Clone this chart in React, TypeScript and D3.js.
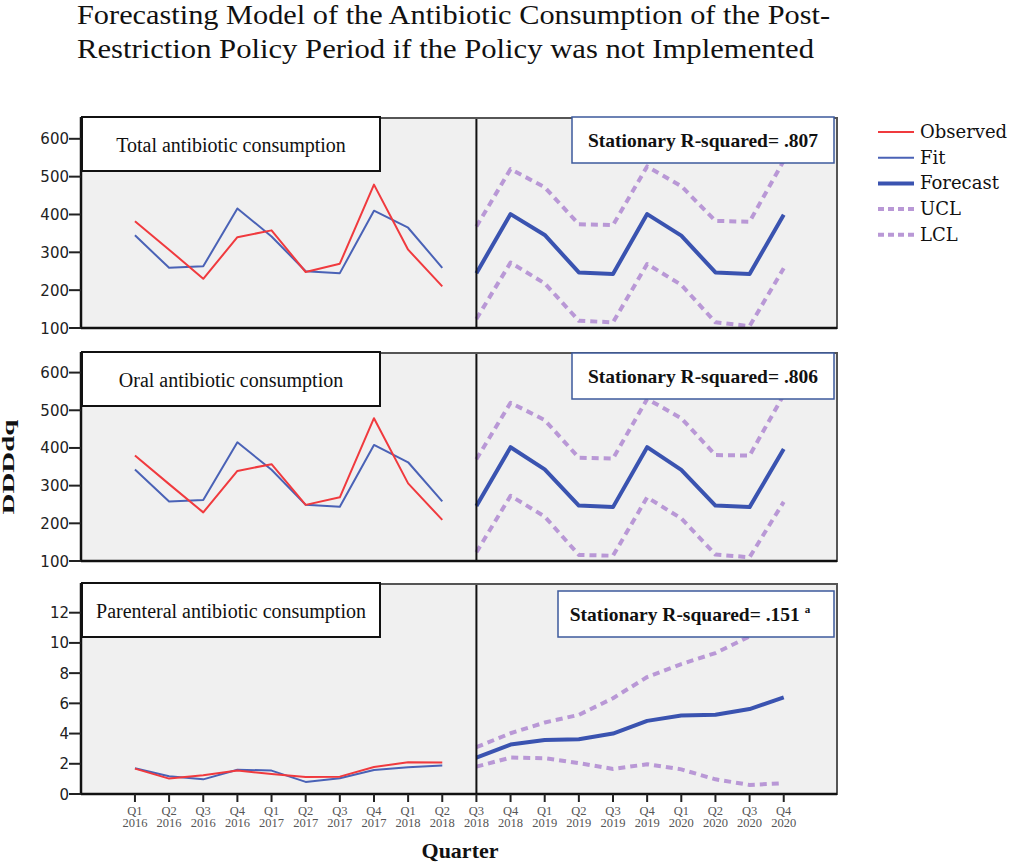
import React from 'react';
import * as d3 from 'd3';

const periods = [
  'Q1 2016', 'Q2 2016', 'Q3 2016', 'Q4 2016', 'Q1 2017', 'Q2 2017', 'Q3 2017', 'Q4 2017', 'Q1 2018', 'Q2 2018',
  'Q3 2018', 'Q4 2018', 'Q1 2019', 'Q2 2019', 'Q3 2019', 'Q4 2019', 'Q1 2020', 'Q2 2020', 'Q3 2020', 'Q4 2020',
];

// history: Q1 2016 .. Q2 2018, forecast: Q3 2018 .. Q4 2020
const totalObserved = [382, 307, 230, 340, 358, 248, 270, 479, 307, 210];
const totalFit = [345, 259, 263, 416, 342, 250, 245, 410, 365, 259];
const totalForecast = [245, 401, 346, 247, 243, 401, 344, 247, 243, 399];
const totalUCL = [368, 520, 472, 374, 372, 527, 475, 383, 381, 542];
const totalLCL = [124, 273, 218, 119, 115, 269, 214, 115, 105, 258];

const oralObserved = [380, 304, 229, 339, 357, 249, 269, 479, 306, 209];
const oralFit = [343, 258, 262, 415, 342, 249, 244, 408, 362, 258];
const oralForecast = [246, 402, 343, 247, 243, 402, 342, 247, 243, 397];
const oralUCL = [370, 520, 474, 374, 372, 530, 479, 381, 380, 541];
const oralLCL = [123, 273, 218, 116, 114, 269, 213, 117, 110, 257];

const parObserved = [1.68, 1.02, 1.24, 1.55, 1.33, 1.13, 1.15, 1.79, 2.1, 2.08];
const parFit = [1.7, 1.17, 0.97, 1.61, 1.55, 0.8, 1.04, 1.59, 1.77, 1.88];
const parForecast = [2.41, 3.27, 3.58, 3.63, 4.0, 4.84, 5.19, 5.24, 5.62, 6.39];
const parUCL = [3.1, 4.02, 4.73, 5.24, 6.34, 7.74, 8.6, 9.33, 10.43, 11.8];
const parLCL = [1.81, 2.41, 2.37, 2.04, 1.66, 1.97, 1.63, 0.97, 0.6, 0.71];

const dddTicks = [100, 200, 300, 400, 500, 600];
const parTicks = [0, 2, 4, 6, 8, 10, 12];

const legendItems = ['Observed', 'Fit', 'Forecast', 'UCL', 'LCL'];

const RED = '#f03a3e';
const FIT = '#4a62b6';
const FC = '#3a53b0';
const CL = '#b998d6';
const SERIF = '"Liberation Serif", "Times New Roman", serif';

const x = d3.scaleLinear().domain([-1.58, 20.56]).range([81, 837]);
const X0 = 81;
const X1 = 837;

interface PanelProps {
  id: string;
  top: number;
  bottom: number;
  yDomain: [number, number];
  ticks: number[];
  label: string;
  r2: string;
  sup?: boolean;
  boxX: number;
  boxDy: number;
  observed: number[];
  fit: number[];
  forecast: number[];
  ucl: number[];
  lcl: number[];
  showX?: boolean;
}

const Panel: React.FC<PanelProps> = (p) => {
  const y = d3.scaleLinear().domain(p.yDomain).range([p.bottom, p.top]);
  const line = d3.line<number>().x((_, i) => x(i)).y(d => y(d));
  const lineF = d3.line<number>().x((_, i) => x(i + 10)).y(d => y(d));
  const h = p.bottom - p.top;
  const boxCx = (p.boxX + 834) / 2 + (p.sup ? -6 : 0);
  return (
    <g>
      <defs>
        <clipPath id={p.id}>
          <rect x={X0} y={p.top} width={X1 - X0} height={h} />
        </clipPath>
      </defs>
      <rect x={X0} y={p.top} width={X1 - X0} height={h} fill="#f0f0f0" />
      <g clipPath={`url(#${p.id})`} fill="none" strokeLinejoin="round">
        <path d={lineF(p.ucl) || ''} stroke={CL} strokeWidth={4} strokeDasharray="7 5" />
        <path d={lineF(p.lcl) || ''} stroke={CL} strokeWidth={4} strokeDasharray="7 5" />
        <path d={lineF(p.forecast) || ''} stroke={FC} strokeWidth={4} />
        <path d={line(p.fit) || ''} stroke={FIT} strokeWidth={2} />
        <path d={line(p.observed) || ''} stroke={RED} strokeWidth={2} />
      </g>
      <line x1={x(10)} x2={x(10)} y1={p.top} y2={p.bottom} stroke="#111" strokeWidth={2} />
      <rect x={X0} y={p.top} width={X1 - X0} height={h} fill="none" stroke="#555" strokeWidth={2} />
      <line x1={X0} x2={X0} y1={p.top - 1} y2={p.bottom + 1} stroke="#111" strokeWidth={2.5} />
      <line x1={X0} x2={X1} y1={p.bottom} y2={p.bottom} stroke="#111" strokeWidth={2.5} />

      <rect x={X0 + 1} y={p.top - 1} width={298} height={54} fill="#fff" stroke="#111" strokeWidth={2} />
      <text x={X0 + 150} y={p.top + 34} textAnchor="middle" fontFamily={SERIF} fontSize={20} fill="#111">
        {p.label}
      </text>

      <rect x={p.boxX} y={p.top + p.boxDy} width={834 - p.boxX} height={46} fill="#fff" stroke="#3d5a9c" strokeWidth={1.5} />
      <text x={boxCx} y={p.top + p.boxDy + 30} textAnchor="middle" fontFamily={SERIF} fontSize={19.5} fontWeight="bold" fill="#111">
        {p.r2}
        {p.sup && <tspan dx={5} dy={-8} fontSize={11}>a</tspan>}
      </text>

      {p.ticks.map(t => (
        <g key={t}>
          <line x1={X0 - 12} x2={X0} y1={y(t)} y2={y(t)} stroke="#222" strokeWidth={2} />
          <text x={X0 - 12} y={y(t) + 5.5} textAnchor="end" fontFamily='"DejaVu Sans", Verdana, sans-serif' fontSize={15} fill="#222">
            {t}
          </text>
        </g>
      ))}

      {p.showX && periods.map((q, i) => {
        const [qq, yr] = q.split(' ');
        return (
          <g key={q}>
            <line x1={x(i)} x2={x(i)} y1={p.bottom} y2={p.bottom + 8} stroke="#222" strokeWidth={2} />
            <text x={x(i)} y={p.bottom + 21} textAnchor="middle" fontFamily={SERIF} fontSize={12.5} fill="#555">{qq}</text>
            <text x={x(i)} y={p.bottom + 33} textAnchor="middle" fontFamily={SERIF} fontSize={12.5} fill="#555">{yr}</text>
          </g>
        );
      })}
    </g>
  );
};

const App: React.FC = () => {
  return (
    <svg width={1010} height={867} style={{ position: 'absolute', left: 0, top: 0, background: '#fff' }}>
      <rect width={1010} height={867} fill="#fff" />
      <text x={77} y={24} fontFamily={SERIF} fontSize={27} fill="#111" textLength={753} lengthAdjust="spacingAndGlyphs">
        Forecasting Model of the Antibiotic Consumption of the Post-
      </text>
      <text x={77} y={58} fontFamily={SERIF} fontSize={27} fill="#111" textLength={737} lengthAdjust="spacingAndGlyphs">
        Restriction Policy Period if the Policy was not Implemented
      </text>

      <Panel id="c1" top={118} bottom={328} yDomain={[100, 655]} ticks={dddTicks}
        label="Total antibiotic consumption" r2="Stationary R-squared= .807" boxX={572} boxDy={-1}
        observed={totalObserved} fit={totalFit} forecast={totalForecast} ucl={totalUCL} lcl={totalLCL} />
      <Panel id="c2" top={353} bottom={561} yDomain={[100, 652]} ticks={dddTicks}
        label="Oral antibiotic consumption" r2="Stationary R-squared= .806" boxX={572} boxDy={0}
        observed={oralObserved} fit={oralFit} forecast={oralForecast} ucl={oralUCL} lcl={oralLCL} />
      <Panel id="c3" top={584} bottom={794} yDomain={[0, 13.9]} ticks={parTicks}
        label="Parenteral antibiotic consumption" r2="Stationary R-squared= .151" sup boxX={558} boxDy={7}
        observed={parObserved} fit={parFit} forecast={parForecast} ucl={parUCL} lcl={parLCL} showX />

      <text transform="translate(14,467) rotate(-90)" textAnchor="middle" fontFamily={SERIF} fontSize={17} fontWeight="bold" fill="#111"
        textLength={95} lengthAdjust="spacingAndGlyphs">
        DDDdq
      </text>
      <text x={460} y={858} textAnchor="middle" fontFamily={SERIF} fontSize={22} fontWeight="bold" fill="#111">
        Quarter
      </text>

      {legendItems.map((name, i) => {
        const ly = 132 + i * 25.7;
        const stroke = i === 0 ? RED : i === 1 ? FIT : i === 2 ? FC : CL;
        const sw = i < 2 ? 2 : 4;
        return (
          <g key={name}>
            <line x1={878} x2={914} y1={ly} y2={ly} stroke={stroke} strokeWidth={sw}
              strokeDasharray={i > 2 ? '6 4' : undefined} />
            <text x={920} y={ly + 6} fontFamily='"DejaVu Serif", serif' fontSize={18} fill="#111">{name}</text>
          </g>
        );
      })}
    </svg>
  );
};

export default App;
